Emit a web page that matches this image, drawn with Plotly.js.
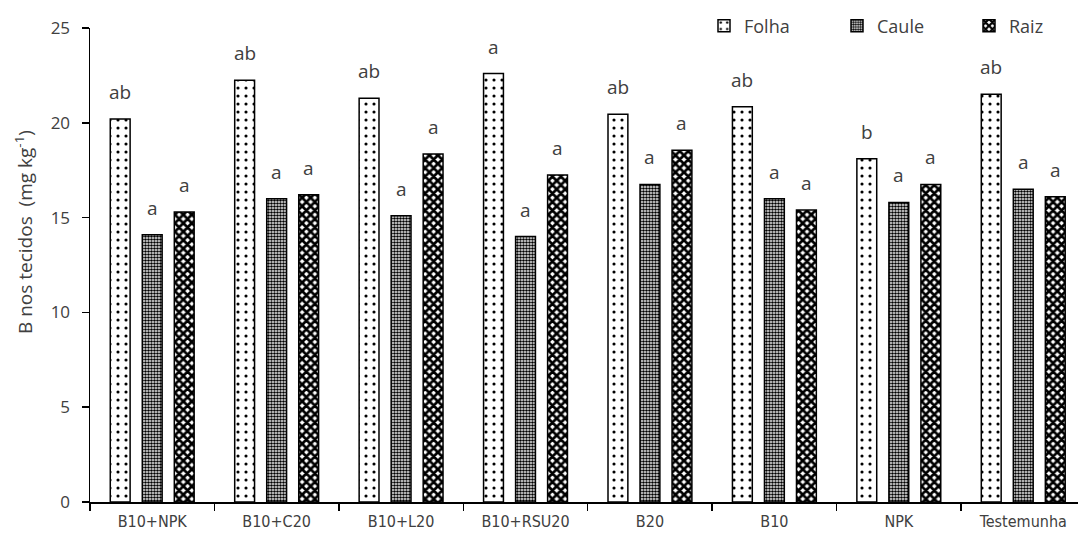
<!DOCTYPE html>
<html>
<head>
<meta charset="utf-8">
<script src="https://cdn.plot.ly/plotly-3.0.1.min.js"></script>
<style>html,body{margin:0;padding:0;background:#fff;}#chart{width:1078px;height:540px;}</style>
</head>
<body>
<div id="chart"></div>
<script>
var categories = ["B10+NPK", "B10+C20", "B10+L20", "B10+RSU20", "B20", "B10", "NPK", "Testemunha"];
var folha = [20.2, 22.25, 21.3, 22.6, 20.45, 20.85, 18.1, 21.5];
var caule = [14.1, 16.0, 15.1, 14.0, 16.75, 16.0, 15.8, 16.5];
var raiz  = [15.3, 16.2, 18.35, 17.25, 18.55, 15.4, 16.75, 16.1];
var folhaLetters = ["ab", "ab", "ab", "a", "ab", "ab", "b", "ab"];
var cauleLetters = ["a", "a", "a", "a", "a", "a", "a", "a"];
var raizLetters  = ["a", "a", "a", "a", "a", "a", "a", "a"];
var seriesNames = ["Folha", "Caule", "Raiz"];
var yTitle = "B nos tecidos  (mg kg<sup>-1</sup>)";

var txtColor = "#404040";
var tickFam = "DejaVu Sans Condensed, Liberation Sans, sans-serif";
var fam = "Open Sans, sans-serif";

var patterns = [
  {shape: ".", fgcolor: "#000", bgcolor: "#fff", size: 8, solidity: 0.12},
  {shape: ".", fgcolor: "#000", bgcolor: "#fff", size: 3, solidity: 0.6},
  {shape: "x", fgcolor: "#000", bgcolor: "#fff", size: 6, solidity: 0.7}
];
var vals = [folha, caule, raiz];
var letters = [folhaLetters, cauleLetters, raizLetters];
var shifts = [-32, 0, 32];
var legendIds = ["legend", "legend2", "legend3"];
var legendPx = [704, 837, 969];

var traces = vals.map(function(v, s) {
  return {
    type: "bar", name: seriesNames[s], x: categories, y: v, legend: legendIds[s],
    marker: {color: "#fff", line: {color: "#000", width: 1.5}, pattern: patterns[s]}
  };
});

var annotations = [];
for (var s = 0; s < 3; s++) {
  for (var i = 0; i < categories.length; i++) {
    annotations.push({
      x: categories[i], y: vals[s][i], text: letters[s][i], showarrow: false,
      xshift: shifts[s], yshift: 12, yanchor: "bottom", xanchor: "center",
      font: {family: fam, size: 19, color: txtColor}
    });
  }
}
annotations.push({
  xref: "paper", yref: "paper", x: -66 / 988, y: (502 - 232) / 474, text: yTitle,
  textangle: -90, showarrow: false, xanchor: "center", yanchor: "middle",
  font: {family: fam, size: 19, color: txtColor}
});

var layout = {
  width: 1078, height: 540,
  margin: {l: 90, r: 0, t: 28, b: 38},
  paper_bgcolor: "#fff", plot_bgcolor: "#fff",
  barmode: "group", bargap: 0.228, bargroupgap: 0.38,
  showlegend: true,
  xaxis: {type: "category", range: [-0.5, 7.44], showline: true, linecolor: "#000", linewidth: 1.5,
          ticks: "outside", tickson: "boundaries", ticklen: 7, tickcolor: "#000", tickwidth: 1.5,
          showgrid: false, zeroline: false, ticklabelstandoff: 4,
          tickfont: {family: tickFam, size: 16, color: txtColor}},
  yaxis: {range: [0, 25], dtick: 5, showline: true, linecolor: "#000", linewidth: 1.5,
          ticks: "outside", ticklen: 7, tickcolor: "#000", tickwidth: 1.5,
          showgrid: false, zeroline: false, ticklabelstandoff: 8,
          tickfont: {family: fam, size: 17, color: txtColor}},
  annotations: annotations
};
legendIds.forEach(function(id, s) {
  layout[id] = {x: (legendPx[s] - 90) / 988, xanchor: "left", y: 1.004, yanchor: "middle",
                font: {family: fam, size: 18, color: txtColor}, bgcolor: "rgba(0,0,0,0)"};
});

Plotly.newPlot("chart", traces, layout, {displayModeBar: false, staticPlot: true});
</script>
</body>
</html>
